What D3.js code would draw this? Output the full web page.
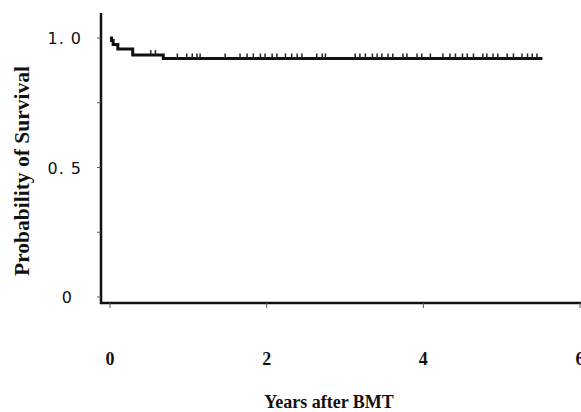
<!DOCTYPE html>
<html>
<head>
<meta charset="utf-8">
<script src="https://cdn.jsdelivr.net/npm/d3@7"></script>
<style>
  body { margin: 0; background: #fff; }
  svg { display: block; }
</style>
</head>
<body>
<div id="chart"></div>
<script>
// Kaplan-Meier steps: [years, survival]
var stepTimes = [0, 0.02, 0.04, 0.10, 0.29, 0.68, 5.52];
var stepSurv  = [1.0, 0.99, 0.975, 0.958, 0.934, 0.921, 0.921];
// censored observations (years)
var censorTimes = [0.52, 0.58, 0.86, 0.98, 1.05, 1.11, 1.15, 1.47, 1.66, 1.75, 1.83, 1.92, 1.98,
    2.07, 2.13, 2.24, 2.32, 2.39, 2.45, 2.64, 2.71, 2.75, 3.13, 3.19, 3.26, 3.35, 3.41,
    3.47, 3.55, 3.61, 3.74, 3.79, 3.92, 3.98, 4.09, 4.25, 4.34, 4.41, 4.50, 4.56, 4.64,
    4.76, 4.81, 4.89, 4.95, 5.07, 5.15, 5.26, 5.33, 5.39, 5.45];
var xTicks = [0, 2, 4, 6];
var yTicks = [0, 0.25, 0.5, 0.75, 1.0];
var yTickLabels = {"0": "0", "0.5": "0. 5", "1": "1. 0"};

var width = 581, height = 412;

var svg = d3.select("#chart").append("svg")
    .attr("width", width)
    .attr("height", height);

var x = d3.scaleLinear().domain([0, 6]).range([110, 580]);
var y = d3.scaleLinear().domain([0, 1]).range([297, 38]);

var axisX = 101, axisY = 303;

// axis lines
svg.append("line")
    .attr("x1", axisX).attr("y1", 13)
    .attr("x2", axisX).attr("y2", axisY + 1)
    .attr("stroke", "#111").attr("stroke-width", 2.5);
svg.append("line")
    .attr("x1", axisX - 1).attr("y1", axisY)
    .attr("x2", width).attr("y2", axisY)
    .attr("stroke", "#111").attr("stroke-width", 2.5);

// y ticks
svg.append("g").selectAll("line")
    .data(yTicks).enter().append("line")
    .attr("x1", axisX - 4).attr("x2", axisX)
    .attr("y1", function(d){ return y(d); })
    .attr("y2", function(d){ return y(d); })
    .attr("stroke", "#555").attr("stroke-width", 1);

svg.append("g").selectAll("text")
    .data(yTicks.filter(function(d){ return yTickLabels[String(d)]; }))
    .enter().append("text")
    .attr("x", function(d){ return d === 0 ? 73 : 82; })
    .attr("y", function(d){ return y(d) + 6; })
    .attr("text-anchor", "end")
    .attr("font-family", "DejaVu Sans, Arial, sans-serif")
    .attr("font-size", 16)
    .attr("letter-spacing", 1)
    .attr("fill", "#111")
    .text(function(d){ return yTickLabels[String(d)]; });

// x ticks
svg.append("g").selectAll("line")
    .data(xTicks).enter().append("line")
    .attr("x1", function(d){ return x(d); })
    .attr("x2", function(d){ return x(d); })
    .attr("y1", axisY).attr("y2", axisY + 5)
    .attr("stroke", "#555").attr("stroke-width", 1);

svg.append("g").selectAll("text")
    .data(xTicks).enter().append("text")
    .attr("x", function(d){ return x(d); })
    .attr("y", 365)
    .attr("text-anchor", "middle")
    .attr("font-family", "Liberation Serif, Times New Roman, serif")
    .attr("font-weight", "bold")
    .attr("font-size", 18)
    .attr("fill", "#111")
    .text(function(d){ return d; });

// axis titles
svg.append("text")
    .attr("x", 329).attr("y", 408)
    .attr("text-anchor", "middle")
    .attr("font-family", "Liberation Serif, Times New Roman, serif")
    .attr("font-weight", "bold")
    .attr("font-size", 18)
    .attr("fill", "#111")
    .text("Years after BMT");

svg.append("text")
    .attr("transform", "translate(29,171) rotate(-90)")
    .attr("text-anchor", "middle")
    .attr("font-family", "Liberation Serif, Times New Roman, serif")
    .attr("font-weight", "bold")
    .attr("font-size", 21.5)
    .attr("fill", "#111")
    .text("Probability of Survival");

// survival curve
var pts = stepTimes.map(function(t, i){ return [t, stepSurv[i]]; });
var line = d3.line()
    .x(function(d){ return x(d[0]); })
    .y(function(d){ return y(d[1]); })
    .curve(d3.curveStepAfter);

svg.append("path")
    .datum(pts)
    .attr("d", line)
    .attr("fill", "none")
    .attr("stroke", "#111")
    .attr("stroke-width", 3);

// survival at a time, for the censor marks
function survAt(t){
    var s = stepSurv[0];
    for (var i = 0; i < stepTimes.length; i++){
        if (stepTimes[i] <= t) s = stepSurv[i];
    }
    return s;
}

svg.append("g").selectAll("line")
    .data(censorTimes).enter().append("line")
    .attr("x1", function(d){ return x(d); })
    .attr("x2", function(d){ return x(d); })
    .attr("y1", function(d){ return y(survAt(d)) - 5; })
    .attr("y2", function(d){ return y(survAt(d)); })
    .attr("stroke", "#222")
    .attr("stroke-width", 1.5);
</script>
</body>
</html>
